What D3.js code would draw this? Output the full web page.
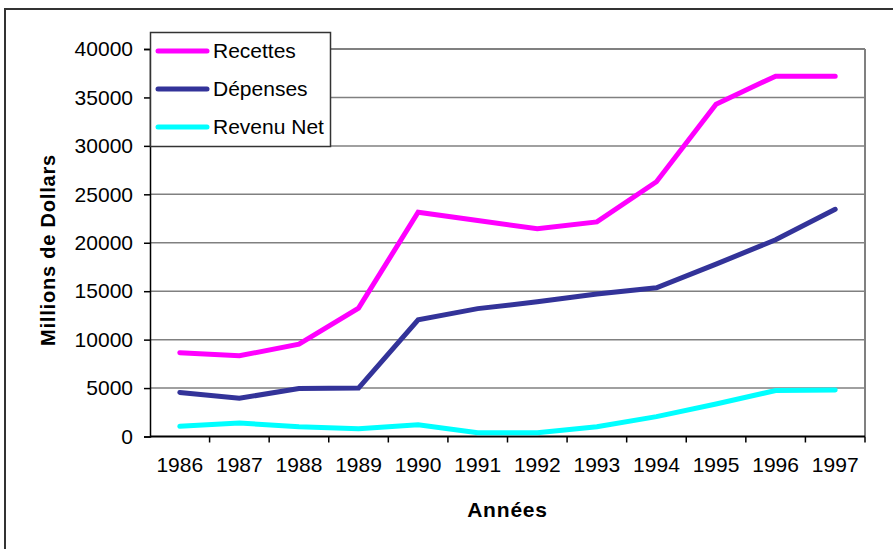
<!DOCTYPE html>
<html>
<head>
<meta charset="utf-8">
<script src="https://cdn.jsdelivr.net/npm/d3@7"></script>
<style>
  body { margin: 0; background: #fff; }
  svg text { font-family: "Liberation Sans", Arial, sans-serif; fill: #000; }
</style>
</head>
<body>
<svg id="chart" width="893" height="549"></svg>
<script>
const years = ['1986','1987','1988','1989','1990','1991','1992','1993','1994','1995','1996','1997'];
const recettes = [8650, 8330, 9530, 13250, 23150, 22300, 21450, 22150, 26300, 34300, 37200, 37200];
const depenses = [4550, 3950, 4950, 5000, 12050, 13200, 13900, 14700, 15350, 17800, 20300, 23450];
const revenuNet = [1050, 1400, 1000, 800, 1200, 400, 400, 1000, 2050, 3350, 4750, 4800];
const yTicks = [0, 5000, 10000, 15000, 20000, 25000, 30000, 35000, 40000];

const series = [
  { name: 'Recettes', values: recettes, color: '#ff00ff' },
  { name: 'Dépenses', values: depenses, color: '#333399' },
  { name: 'Revenu Net', values: revenuNet, color: '#00ffff' }
];

const svg = d3.select('svg#chart'),
  plotLeft = 150, plotRight = 865, plotTop = 49, plotBottom = 436.5;

// outer frame of the chart
svg.append('rect')
  .attr('x', 5).attr('y', 9)
  .attr('width', 900).attr('height', 560)
  .attr('fill', 'none')
  .attr('stroke', '#333')
  .attr('stroke-width', 2);

const x = d3.scaleBand()
  .domain(years)
  .range([plotLeft, plotRight]);

const y = d3.scaleLinear()
  .domain([0, 40000])
  .range([plotBottom, plotTop]);

// grid
svg.append('g').selectAll('line').data(yTicks.slice(1))
  .enter().append('line')
    .attr('x1', plotLeft).attr('x2', plotRight)
    .attr('y1', d => y(d)).attr('y2', d => y(d))
    .attr('stroke', '#808080')
    .attr('stroke-width', d => d == 40000 ? 2 : 1.5);

svg.append('line')
  .attr('x1', plotRight).attr('x2', plotRight)
  .attr('y1', plotTop).attr('y2', plotBottom)
  .attr('stroke', '#808080')
  .attr('stroke-width', 2);

// y axis
const yAxis = svg.append('g')
  .attr('transform', `translate(${plotLeft},0)`)
  .call(d3.axisLeft(y).tickValues(yTicks).tickSize(6).tickPadding(11).tickFormat(d3.format('d')));
yAxis.select('.domain').attr('stroke', '#000').attr('stroke-width', 1.5);
yAxis.selectAll('.tick line').attr('stroke', '#000').attr('stroke-width', 1.5);
yAxis.selectAll('.tick text').style('font-size', '21px');

// x axis: labels centered on bands, ticks between bands
const xAxis = svg.append('g')
  .attr('transform', `translate(0,${plotBottom})`)
  .call(d3.axisBottom(x).tickSize(0).tickPadding(21));
xAxis.select('.domain').remove();
xAxis.selectAll('.tick text').style('font-size', '21px');

svg.append('line')
  .attr('x1', plotLeft).attr('x2', plotRight)
  .attr('y1', plotBottom).attr('y2', plotBottom)
  .attr('stroke', '#000')
  .attr('stroke-width', 2);

svg.append('g').selectAll('line').data(years.slice(1).concat(['end']))
  .enter().append('line')
    .attr('x1', d => d == 'end' ? plotRight : x(d))
    .attr('x2', d => d == 'end' ? plotRight : x(d))
    .attr('y1', plotBottom).attr('y2', plotBottom + 6)
    .attr('stroke', '#000')
    .attr('stroke-width', 1.5);

// lines
const line = d3.line()
  .x((d, i) => x(years[i]) + x.bandwidth() / 2)
  .y(d => y(d));

svg.append('g').selectAll('path').data(series)
  .enter().append('path')
    .attr('d', d => line(d.values))
    .attr('fill', 'none')
    .attr('stroke', d => d.color)
    .attr('stroke-width', 5)
    .attr('stroke-linecap', 'round')
    .attr('stroke-linejoin', 'miter');

// axis titles
svg.append('text')
  .attr('x', (plotLeft + plotRight) / 2)
  .attr('y', 517)
  .attr('text-anchor', 'middle')
  .style('font-size', '21px')
  .style('font-weight', 'bold')
  .style('letter-spacing', '0.8px')
  .text('Années');

svg.append('text')
  .attr('transform', 'translate(55,250) rotate(-90)')
  .attr('text-anchor', 'middle')
  .style('font-size', '20px')
  .style('font-weight', 'bold')
  .style('letter-spacing', '0.8px')
  .text('Millions de Dollars');

// legend
const legend = svg.append('g');
legend.append('rect')
  .attr('x', 150.5).attr('y', 32.5)
  .attr('width', 180).attr('height', 114)
  .attr('fill', '#fff')
  .attr('stroke', '#333')
  .attr('stroke-width', 1.5);

const rows = legend.selectAll('g.row').data(series)
  .enter().append('g')
    .attr('class', 'row')
    .attr('transform', (d, i) => `translate(0,${51 + i * 38})`);
rows.append('line')
  .attr('x1', 158).attr('x2', 207)
  .attr('stroke', d => d.color)
  .attr('stroke-width', 5)
  .attr('stroke-linecap', 'round');
rows.append('text')
  .attr('x', 213)
  .attr('dy', '0.35em')
  .style('font-size', '21px')
  .text(d => d.name);
</script>
</body>
</html>
